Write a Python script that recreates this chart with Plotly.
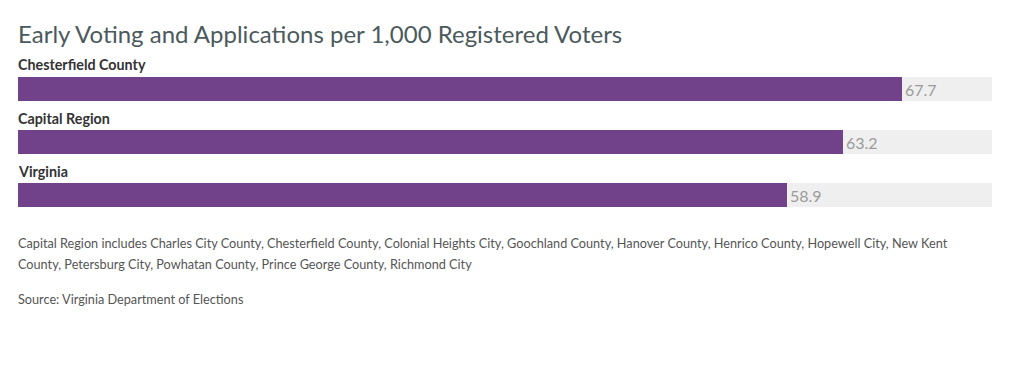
import plotly.graph_objects as go

categories = ["Chesterfield County", "Capital Region", "Virginia"]
values = [67.7, 63.2, 58.9]
value_labels = ["67.7", "63.2", "58.9"]
scale_max = 74.6

title = "Early Voting and Applications per 1,000 Registered Voters"
note_lines = [
    "Capital Region includes Charles City County, Chesterfield County, Colonial Heights City, Goochland County, Hanover County, Henrico County, Hopewell City, New Kent",
    "County, Petersburg City, Powhatan County, Prince George County, Richmond City",
]
source = "Source: Virginia Department of Elections"

FONT = "Lato"
PURPLE = "#71428a"
BG = "#efefef"

# page body has an 8px margin; work in figure coords = screen - 8
W, H = 1016, 358
ML, MR, MT, MB = 10, 32, 54, 144
plot_h = H - MT - MB
plot_w = W - ML - MR

def paper_y(py):
    return (H - MB - (py - 8)) / plot_h

def paper_x(px):
    return ((px - 8) - ML) / plot_w

fig = go.Figure()
fig.add_trace(go.Bar(
    y=categories, x=[scale_max] * len(categories), orientation="h",
    marker=dict(color=BG, line=dict(width=0)), width=0.45,
    hoverinfo="skip", showlegend=False,
))
fig.add_trace(go.Bar(
    y=categories, x=values, orientation="h",
    marker=dict(color=PURPLE, line=dict(width=0)), width=0.45,
    text=value_labels, textposition="outside", cliponaxis=False,
    textfont=dict(family=FONT, size=16, color="#9b9b9b"),
    showlegend=False,
))

annotations = []
for c in categories:
    annotations.append(dict(
        x=0, y=c, xref="x", yref="y", text="<b>" + c + "</b>",
        showarrow=False, xanchor="left", yanchor="middle", yshift=24, xshift=-2,
        font=dict(family=FONT, size=14.3, color="#333333"),
    ))

annotations.append(dict(
    x=paper_x(18), y=paper_y(34), xref="paper", yref="paper", text=title,
    showarrow=False, xanchor="left", yanchor="middle", xshift=-2,
    font=dict(family=FONT, size=24, color="#4b5a5c"),
))
for i, line in enumerate(note_lines):
    annotations.append(dict(
        x=paper_x(18), y=paper_y(243 + 21 * i), xref="paper", yref="paper", text=line,
        showarrow=False, xanchor="left", yanchor="middle", xshift=-2,
        font=dict(family=FONT, size=12.7, color="#555555"),
    ))
annotations.append(dict(
    x=paper_x(18), y=paper_y(299), xref="paper", yref="paper", text=source,
    showarrow=False, xanchor="left", yanchor="middle", xshift=-2,
    font=dict(family=FONT, size=12.7, color="#555555"),
))

fig.update_layout(
    width=W, height=H,
    margin=dict(l=ML, r=MR, t=MT, b=MB, pad=0),
    paper_bgcolor="white", plot_bgcolor="white",
    barmode="overlay", bargap=0,
    xaxis=dict(range=[0, scale_max], visible=False, fixedrange=True),
    yaxis=dict(range=[2.5, -0.5], visible=False, fixedrange=True,
               categoryorder="array", categoryarray=categories),
    font=dict(family=FONT),
    annotations=annotations,
)

fig.write_html("out.html", config={"displayModeBar": False})
